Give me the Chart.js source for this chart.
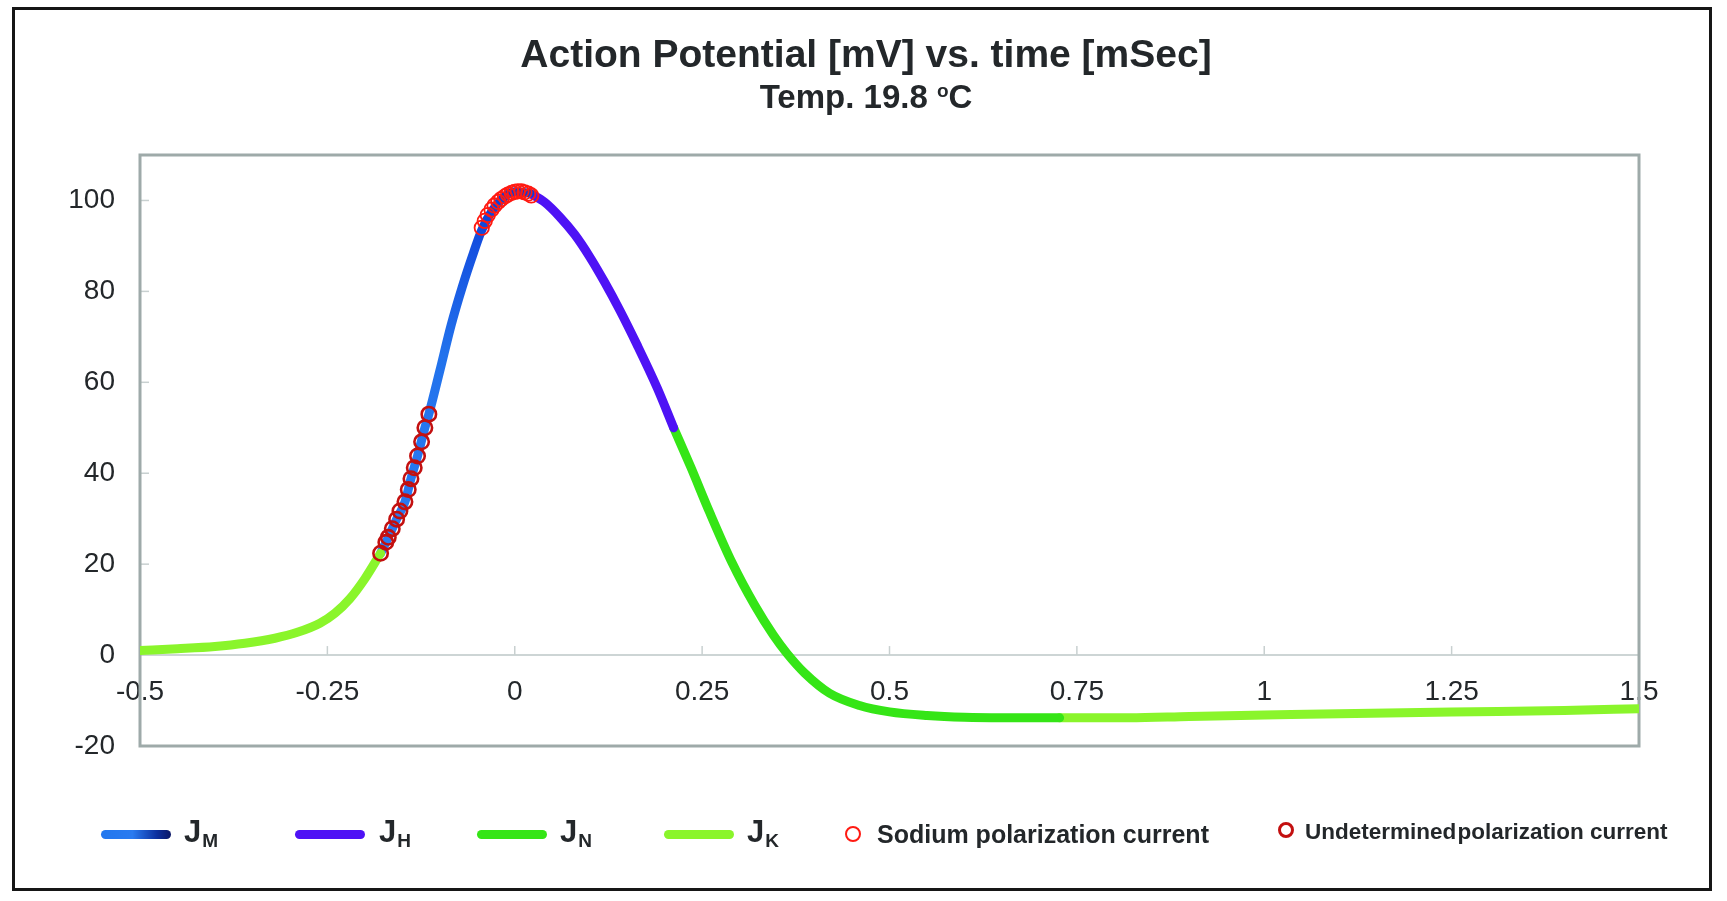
<!DOCTYPE html>
<html>
<head>
<meta charset="utf-8">
<script src="https://cdn.jsdelivr.net/npm/chart.js@4.4.1/dist/chart.umd.min.js"></script>
<style>
html,body{margin:0;padding:0;background:#fff;}
#wrap{position:relative;width:1727px;height:901px;overflow:hidden;font-family:"Liberation Sans",Arial,Helvetica,sans-serif;color:#23272a;}
#frame{position:absolute;left:12px;top:7px;width:1700px;height:884px;border:3px solid #161616;box-sizing:border-box;pointer-events:none;}
#cv{position:absolute;left:0;top:0;width:1727px;height:901px;}
.t{position:absolute;white-space:nowrap;font-weight:bold;line-height:1;}
#title{left:0;width:1732px;top:34px;text-align:center;font-size:39px;}
#subtitle{left:0;width:1732px;top:80px;text-align:center;font-size:33px;}
#subtitle sup{font-size:19px;vertical-align:11px;line-height:0;}
.sw{position:absolute;height:9px;border-radius:5px;top:830px;width:70px;}
.jl{font-size:31px;top:816px;}
.jl span{font-size:19px;position:relative;top:5px;margin-left:1px;}
.mk{position:absolute;border-radius:50%;box-sizing:border-box;background:transparent;}
</style>
</head>
<body>
<div id="wrap">
  <canvas id="cv" width="1727" height="901"></canvas>
  <div id="frame"></div>
  <div id="title" class="t">Action Potential [mV] vs. time [mSec]</div>
  <div id="subtitle" class="t">Temp. 19.8 <sup>o</sup>C</div>

  <div class="sw" style="left:101px;background:linear-gradient(to right,#2277ee 0%,#2a7bf0 45%,#0c2f9e 80%,#0a1766 100%);"></div>
  <div class="t jl" style="left:184px;">J<span>M</span></div>
  <div class="sw" style="left:295px;background:#4e12f5;"></div>
  <div class="t jl" style="left:379px;">J<span>H</span></div>
  <div class="sw" style="left:477px;background:#35e516;"></div>
  <div class="t jl" style="left:560px;">J<span>N</span></div>
  <div class="sw" style="left:664px;background:#8af52b;"></div>
  <div class="t jl" style="left:747px;">J<span>K</span></div>

  <div class="mk" style="left:845px;top:826px;width:16px;height:16px;border:2px solid #ff1a12;"></div>
  <div class="t" style="left:877px;top:822px;font-size:25px;">Sodium polarization current</div>
  <div class="mk" style="left:1278px;top:822px;width:16px;height:16px;border:3px solid #c31010;"></div>
  <div class="t" style="left:1305px;top:821px;font-size:22.5px;letter-spacing:0px;">Undetermined<span style="word-spacing:-5px;"> </span>polarization current</div>
</div>
<script>
// ---- data ----
const xTicks = [-0.5, -0.25, 0, 0.25, 0.5, 0.75, 1, 1.25, 1.5];
const yTicks = [-20, 0, 20, 40, 60, 80, 100];

const jkLeftT = [-0.5, -0.45, -0.40, -0.36, -0.32, -0.29, -0.26, -0.24, -0.22, -0.20, -0.179];
const jkLeftV = [1.0, 1.4, 1.9, 2.6, 3.7, 5.0, 7.0, 9.2, 12.4, 16.8, 22.4];

const jmT = [-0.179, -0.1687, -0.1576, -0.1465, -0.1385, -0.1297, -0.1199, -0.1146, -0.10, -0.085, -0.07, -0.055, -0.044, -0.03, -0.015, 0, 0.02];
const jmV = [22.4, 25.9, 29.9, 33.7, 38.8, 43.8, 50.0, 53.0, 62.5, 72.5, 81.0, 88.5, 93.5, 97.8, 100.6, 101.9, 101.6];

const jhT = [0.02, 0.04, 0.06, 0.08, 0.10, 0.12, 0.14, 0.163, 0.19, 0.212];
const jhV = [101.6, 99.6, 96.4, 92.5, 87.6, 82.0, 75.9, 68.3, 58.8, 50.0];

const jnT = [0.212, 0.235, 0.26, 0.29, 0.32, 0.345, 0.363, 0.387, 0.42, 0.46, 0.5, 0.55, 0.6, 0.65, 0.727];
const jnV = [50.0, 41.3, 31.4, 20.3, 11.0, 4.4, 0.4, -4.0, -8.4, -11.1, -12.5, -13.3, -13.7, -13.8, -13.8];

const jkRightT = [0.727, 0.82, 0.9, 1.0, 1.1, 1.25, 1.4, 1.5];
const jkRightV = [-13.8, -13.8, -13.5, -13.2, -12.9, -12.5, -12.2, -11.8];

const sodiumT = [-0.044, -0.040, -0.036, -0.031, -0.027, -0.022, -0.018, -0.013, -0.009, -0.004, 0.000, 0.004, 0.009, 0.013, 0.018, 0.022];
const sodiumV = [94.0, 95.5, 96.8, 98.0, 98.9, 99.7, 100.3, 100.9, 101.3, 101.7, 101.9, 102.0, 102.0, 101.8, 101.5, 101.1];

const undetT = [-0.179, -0.172, -0.1687, -0.1634, -0.1576, -0.1532, -0.1465, -0.1421, -0.1385, -0.1341, -0.1297, -0.1243, -0.1199, -0.1146];
const undetV = [22.4, 24.8, 25.9, 27.8, 29.9, 31.7, 33.7, 36.4, 38.8, 41.2, 43.8, 46.9, 50.0, 53.0];

// ---- chart ----
Chart.defaults.font.family = '"Liberation Sans", Arial, Helvetica, sans-serif';
const pts = (t, v) => t.map((x, i) => ({ x: x, y: v[i] }));

function lineDs(label, t, v, color) {
  return {
    label: label, data: pts(t, v), borderColor: color, borderWidth: 9,
    pointRadius: 0, pointHoverRadius: 0, cubicInterpolationMode: 'monotone',
    borderCapStyle: 'round', borderJoinStyle: 'round', fill: false, order: 1
  };
}
function ringDs(label, t, v, color, bw) {
  return {
    label: label, data: pts(t, v), showLine: false, pointRadius: 7.2,
    pointBorderWidth: bw, pointBorderColor: color, pointBackgroundColor: 'rgba(0,0,0,0)',
    pointHoverRadius: 7.2, order: 0
  };
}
function jmColor(ctx) {
  const chart = ctx.chart;
  if (!chart.chartArea) return '#2277ee';
  const ys = chart.scales.y;
  const g = chart.ctx.createLinearGradient(0, ys.getPixelForValue(22), 0, ys.getPixelForValue(102));
  g.addColorStop(0, '#2a7cf2');
  g.addColorStop(0.55, '#2272ec');
  g.addColorStop(0.85, '#1550e0');
  g.addColorStop(1, '#0b3cd4');
  return g;
}

const frameTicks = {
  id: 'frameTicks',
  beforeDatasetsDraw(chart) {
    const { ctx, chartArea: a, scales } = chart;
    const x = scales.x, y = scales.y;
    ctx.save();
    ctx.strokeStyle = '#c8d0d0';
    ctx.lineWidth = 1.5;
    const y0 = y.getPixelForValue(0);
    xTicks.forEach(v => {
      if (v > x.min && v < x.max) {
        const px = x.getPixelForValue(v);
        ctx.beginPath(); ctx.moveTo(px, y0 - 9); ctx.lineTo(px, y0); ctx.stroke();
      }
    });
    yTicks.forEach(v => {
      if (v > 0) {
        const py = y.getPixelForValue(v);
        ctx.beginPath(); ctx.moveTo(a.left, py); ctx.lineTo(a.left + 9, py); ctx.stroke();
      }
    });
    ctx.strokeStyle = '#9eaaa9';
    ctx.lineWidth = 3;
    ctx.strokeRect(a.left, a.top, a.right - a.left, a.bottom - a.top);
    ctx.restore();
  }
};

new Chart(document.getElementById('cv'), {
  type: 'line',
  data: {
    datasets: [
      ringDs('Sodium polarization current', sodiumT, sodiumV, '#ff1a12', 1.8),
      ringDs('Undetermined polarization current', undetT, undetV, '#c31010', 2.6),
      lineDs('JK (rest)', jkLeftT, jkLeftV, '#8af52b'),
      Object.assign(lineDs('JM', jmT, jmV, '#2277ee'), { borderColor: jmColor }),
      lineDs('JH', jhT, jhV, '#4e12f5'),
      lineDs('JN', jnT, jnV, '#35e516'),
      lineDs('JK', jkRightT, jkRightV, '#8af52b')
    ]
  },
  options: {
    responsive: false,
    animation: false,
    events: [],
    layout: { padding: { left: 70, top: 155, right: 88, bottom: 155 } },
    plugins: { legend: { display: false }, tooltip: { enabled: false }, title: { display: false } },
    scales: {
      x: {
        type: 'linear', min: -0.5, max: 1.5, position: { y: 0 },
        afterBuildTicks: s => { s.ticks = xTicks.map(v => ({ value: v })); },
        ticks: { padding: 20, autoSkip: false, maxRotation: 0, color: '#23272a', font: { size: 28 }, callback: v => String(v) },
        grid: { display: false, drawTicks: false },
        border: { display: true, color: '#cdd5d5', width: 2 }
      },
      y: {
        type: 'linear', min: -20, max: 110,
        afterBuildTicks: s => { s.ticks = yTicks.map(v => ({ value: v })); },
        afterFit: s => { s.width = 70; },
        ticks: { padding: 25, color: '#23272a', font: { size: 28 }, callback: v => String(v) },
        grid: { display: false, drawTicks: false },
        border: { display: false }
      }
    }
  },
  plugins: [frameTicks]
});
</script>
</body>
</html>
